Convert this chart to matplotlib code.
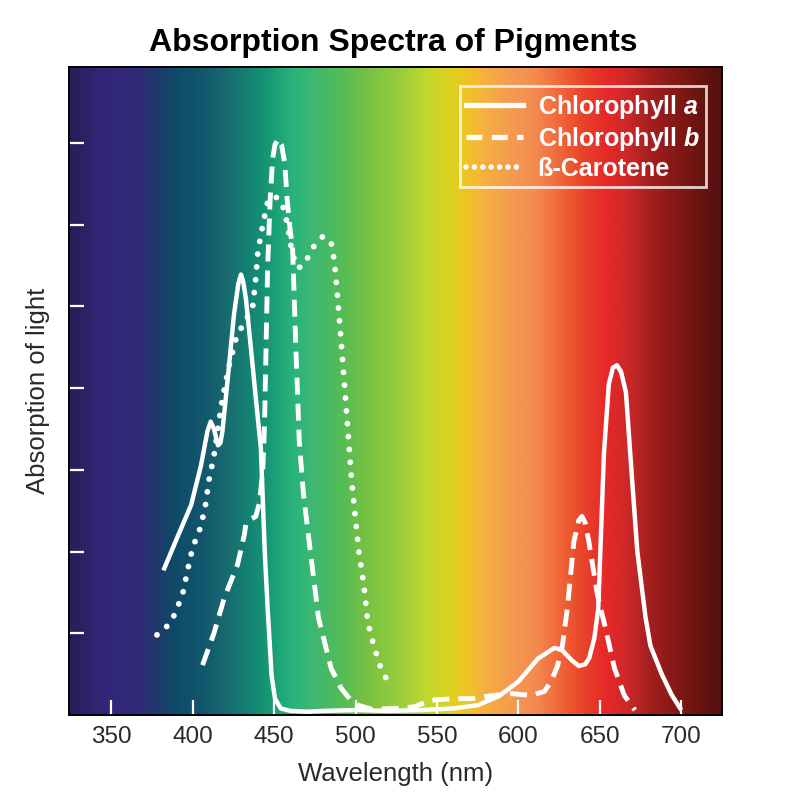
import matplotlib
matplotlib.use("Agg")
import matplotlib.pyplot as plt
import numpy as np
from matplotlib.colors import LinearSegmentedColormap
from matplotlib.lines import Line2D

plt.rcParams["font.family"] = ["Liberation Sans", "DejaVu Sans"]
plt.rcParams["mathtext.fontset"] = "custom"
plt.rcParams["mathtext.rm"] = "Liberation Sans:bold"
plt.rcParams["mathtext.it"] = "Liberation Sans:italic:bold"

# ---- data (wavelength nm, absorption in tick units)
CHL_A_NM = [382, 390, 399, 405, 409, 411, 413, 415.5, 417, 418.2, 421.3, 425.3,
            428, 429.6, 431, 432.6, 435.7, 438.7, 441.8, 444.2, 446, 448.4,
            450.5, 454, 460, 470, 480, 500, 520, 540, 560, 575, 588, 600, 612,
            622, 626.5, 632.7, 637, 641, 643.5, 646.6, 649, 652.5, 655.5, 658,
            660.5, 663, 666, 669, 673, 678, 681, 688, 694, 700]
CHL_A_ABS = [1.77, 2.15, 2.57, 3.05, 3.47, 3.59, 3.5, 3.3, 3.33, 3.47, 4.08,
             4.9, 5.28, 5.39, 5.3, 5.1, 4.49, 3.88, 3.27, 2.0, 1.3, 0.48, 0.2,
             0.08, 0.05, 0.04, 0.05, 0.06, 0.05, 0.06, 0.08, 0.12, 0.23, 0.41,
             0.69, 0.82, 0.8, 0.67, 0.6, 0.62, 0.7, 0.94, 1.3, 3.2, 4.05, 4.25,
             4.28, 4.2, 3.95, 3.1, 2.0, 1.2, 0.85, 0.5, 0.25, 0.06]

CHL_B_NM = [406, 413, 419.3, 427.5, 431.6, 432.6, 436, 438.7, 441, 443, 444,
            446, 447.5, 449, 450.5, 452.5, 454.5, 456.5, 458, 459.7, 461.3,
            463.3, 465.4, 468, 471, 477.2, 485, 491, 497, 501.4, 510, 525, 536,
            546, 560, 571, 585, 596, 608, 616, 620, 624, 627, 630, 634, 637,
            639, 641, 643, 648.6, 653, 659, 665, 671.5]
CHL_B_ABS = [0.61, 1.0, 1.43, 1.84, 2.2, 2.33, 2.4, 2.43, 2.6, 3.0, 3.5, 5.5,
             6.3, 6.8, 6.98, 7.05, 6.98, 6.75, 6.3, 5.95, 5.71, 4.49, 3.35,
             2.7, 2.2, 1.19, 0.57, 0.33, 0.18, 0.12, 0.07, 0.08, 0.1, 0.18, 0.2,
             0.2, 0.24, 0.26, 0.24, 0.29, 0.41, 0.6, 0.85, 1.3, 2.12, 2.38,
             2.43, 2.35, 2.15, 1.46, 1.1, 0.57, 0.24, 0.06]

CAROT_NM = [378, 384.4, 388.3, 393.7, 396.7, 399.8, 405, 408, 410, 413, 418,
            422, 426.5, 429.6, 433, 436.7, 438.5, 440, 443, 446, 450, 454,
            456.5, 458.5, 461, 464.5, 468, 474.5, 480, 485, 487, 489, 491,
            493.6, 497.7, 502, 505, 507.6, 511.3, 515.6, 520]
CAROT_ABS = [0.98, 1.09, 1.21, 1.47, 1.76, 2.04, 2.31, 2.59, 2.88, 3.17, 3.85,
             4.25, 4.6, 4.73, 4.85, 4.98, 5.3, 5.67, 6.0, 6.28, 6.35, 6.3, 6.15,
             5.96, 5.65, 5.47, 5.5, 5.74, 5.86, 5.78, 5.55, 5.1, 4.6, 3.93,
             2.83, 2.0, 1.6, 1.12, 0.84, 0.57, 0.4]

X_TICKS = [350, 400, 450, 500, 550, 600, 650, 700]
Y_TICKS = [1, 2, 3, 4, 5, 6, 7]

# spectrum background colour stops (nm, colour)
SPECTRUM_NM = [324, 345, 365, 378, 388, 405, 420, 435, 448, 462, 475, 490,
               505, 525, 545, 560, 568, 580, 595, 610, 622, 632, 642, 655,
               668, 680, 695, 712, 725]
SPECTRUM_COLORS = ["#2a1d58", "#33267a", "#312a78", "#1f3a6e", "#0e4a68",
                   "#12566c", "#186a70", "#148474", "#189c76", "#2ab47a",
                   "#40b870", "#52bc58", "#74c044", "#96cc3c", "#c4d82c",
                   "#e0d020", "#f0c422", "#f4b040", "#f49c50", "#f48c50",
                   "#f27040", "#ee5830", "#e8402a", "#e62828", "#cc2828",
                   "#a82020", "#881a16", "#6a1410", "#541010"]

XMIN, XMAX = 324, 725
YMIN, YMAX = 0, 7.93


def main() -> None:
    fig = plt.figure(figsize=(7.87, 8.10), dpi=100)
    ax = fig.add_axes([0.0877, 0.1173, 0.8297, 0.8])

    pos = [(v - XMIN) / (XMAX - XMIN) for v in SPECTRUM_NM]
    cmap = LinearSegmentedColormap.from_list("spec", list(zip(pos, SPECTRUM_COLORS)))
    grad = np.linspace(0, 1, 1000)[None, :]
    ax.imshow(grad, cmap=cmap, aspect="auto", extent=[XMIN, XMAX, YMIN, YMAX],
              interpolation="bilinear", zorder=0)

    ax.plot(CAROT_NM, CAROT_ABS, color="white", lw=4.2,
            linestyle=(0, (0.01, 2.2)), dash_capstyle="round", zorder=2)
    ax.plot(CHL_B_NM, CHL_B_ABS, color="white", lw=3.5,
            linestyle=(0, (3.5, 1.85)), dash_capstyle="butt", zorder=3)
    ax.plot(CHL_A_NM, CHL_A_ABS, color="white", lw=3.2,
            solid_capstyle="butt", solid_joinstyle="round", zorder=4)

    ax.set_xlim(XMIN, XMAX)
    ax.set_ylim(YMIN, YMAX)
    ax.set_xticks(X_TICKS)
    ax.set_yticks(Y_TICKS)
    ax.set_yticklabels([])
    ax.tick_params(axis="x", direction="in", length=11, width=1.6, color="white",
                   labelsize=17.5, labelcolor="#2a2a2a", pad=8)
    ax.tick_params(axis="y", direction="in", length=11, width=1.6, color="white")
    for sp in ax.spines.values():
        sp.set_color("black")
        sp.set_linewidth(1.4)
        sp.set_zorder(6)

    ax.set_xlabel("Wavelength (nm)", fontsize=18.5, color="#2a2a2a", labelpad=10)
    ax.set_ylabel("Absorption of light", fontsize=18.5, color="#2a2a2a", labelpad=10)
    fig.suptitle("Absorption Spectra of Pigments", fontsize=23, fontweight="bold",
                 y=0.966)

    handles = [
        Line2D([], [], color="white", lw=3.8),
        Line2D([], [], color="white", lw=3.8, linestyle=(0, (3.0, 1.8))),
        Line2D([], [], color="white", lw=4.0, linestyle=(0, (0.01, 1.5)),
               dash_capstyle="round"),
    ]
    labels = ["Chlorophyll $a$", "Chlorophyll $b$", "ß-Carotene"]
    leg = ax.legend(handles, labels, loc="upper right",
                    bbox_to_anchor=(0.976, 0.97), borderaxespad=0,
                    prop={"weight": "bold", "size": 18}, labelcolor="white",
                    frameon=True, fancybox=False, handlelength=2.25,
                    handletextpad=0.6, labelspacing=0.17, borderpad=0.25)
    frame = leg.get_frame()
    frame.set_facecolor("none")
    frame.set_edgecolor("white")
    frame.set_linewidth(2)
    leg.set_zorder(7)

    fig.savefig("out.png", dpi=100)


if __name__ == "__main__":
    main()
